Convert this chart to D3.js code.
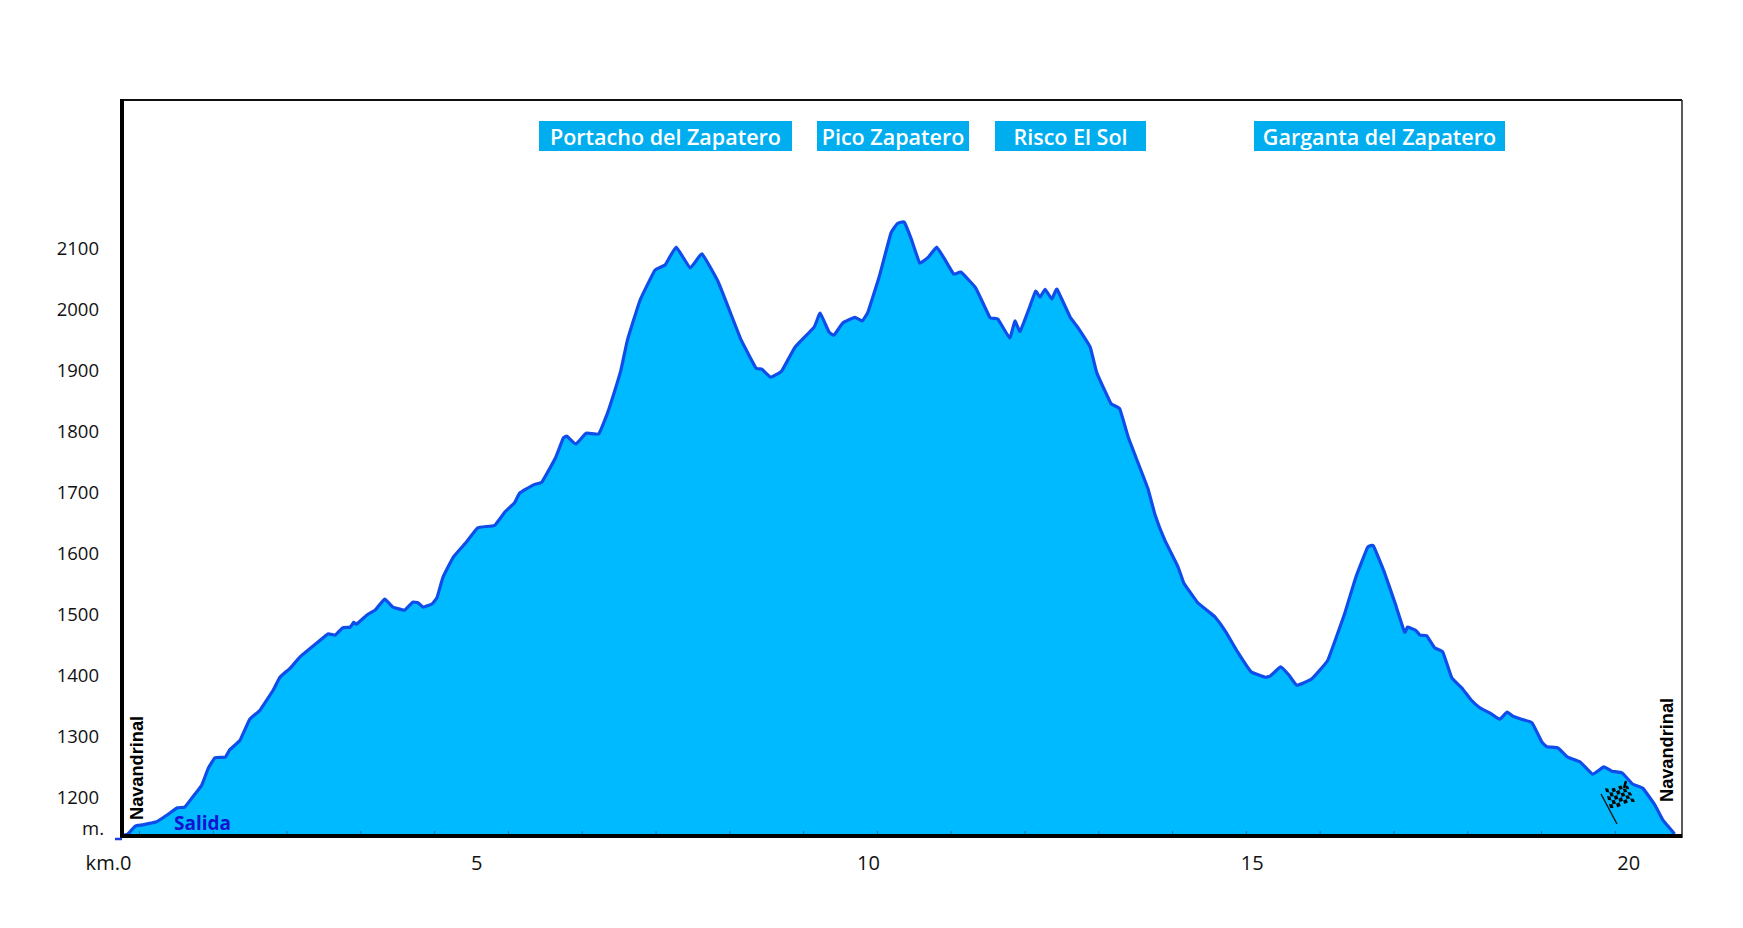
<!DOCTYPE html>
<html>
<head>
<meta charset="utf-8">
<title>Perfil Navandrinal</title>
<script src="https://cdn.jsdelivr.net/npm/d3@7"></script>
<style>
    html, body { margin: 0; padding: 0; background: #fff; }
    svg { display: block; }
    text { font-family: "Open Sans", sans-serif; }
</style>
</head>
<body>
<div id="chart"></div>
<script>
// Profile: distance in km, height in m
const distanceKm = [
    0, 0.08, 0.18, 0.28, 0.47, 0.61, 0.75, 0.85, 0.96, 1.08, 1.17, 1.26, 1.40, 1.46, 1.60, 1.73, 1.87,
    2.05, 2.14, 2.28, 2.41, 2.64, 2.79, 2.89, 2.99, 3.09, 3.14, 3.18, 3.32, 3.43, 3.56, 3.67, 3.83, 3.94,
    4.01, 4.08, 4.20, 4.27, 4.35, 4.49, 4.67, 4.82, 5.05, 5.19, 5.32, 5.39, 5.57, 5.69, 5.80, 5.88, 5.98,
    6.03, 6.15, 6.29, 6.46, 6.57, 6.65, 6.76, 6.85, 7.02, 7.22, 7.36, 7.51, 7.70, 7.86, 8.08, 8.24, 8.39,
    8.59, 8.67, 8.79, 8.94, 9.12, 9.38, 9.46, 9.58, 9.65, 9.77, 9.93, 10.03, 10.11, 10.26, 10.42, 10.51,
    10.60, 10.70, 10.81, 10.93, 11.04, 11.14, 11.27, 11.37, 11.57, 11.76, 11.87, 12.03, 12.10, 12.17,
    12.30, 12.38, 12.44, 12.51, 12.60, 12.67, 12.85, 12.95, 13.12, 13.21, 13.40, 13.52, 13.64, 13.77,
    13.90, 14.00, 14.13, 14.31, 14.39, 14.53, 14.58, 14.73, 14.81, 14.96, 15.12, 15.30, 15.49, 15.56,
    15.70, 15.81, 15.92, 16.12, 16.34, 16.57, 16.72, 16.88, 16.96, 17.11, 17.25, 17.38, 17.42, 17.53,
    17.59, 17.68, 17.79, 17.90, 18.02, 18.16, 18.28, 18.40, 18.54, 18.67, 18.77, 18.85, 18.97, 19.11,
    19.24, 19.31, 19.46, 19.59, 19.76, 19.93, 20.08, 20.19, 20.33, 20.47, 20.61, 20.77, 20.88, 21.04
];
const heightM = [
    1139, 1141, 1154, 1156, 1161, 1172, 1184, 1185, 1202, 1221, 1249, 1266, 1267, 1279, 1295, 1329, 1344,
    1377, 1398, 1413, 1431, 1454, 1469, 1467, 1479, 1480, 1488, 1485, 1500, 1508, 1526, 1513, 1508, 1521,
    1520, 1513, 1518, 1529, 1562, 1595, 1620, 1643, 1647, 1669, 1684, 1700, 1713, 1718, 1741, 1759, 1790,
    1793, 1780, 1798, 1797, 1828, 1857, 1901, 1951, 2016, 2065, 2074, 2103, 2069, 2092, 2046, 1997, 1951,
    1905, 1903, 1890, 1900, 1939, 1972, 1995, 1964, 1959, 1979, 1988, 1982, 1997, 2054, 2126, 2142,
    2144, 2115, 2077, 2087, 2103, 2085, 2059, 2062, 2036, 1988, 1985, 1954, 1982, 1965,
    2005, 2031, 2021, 2034, 2018, 2034, 1988, 1972, 1939, 1897, 1847, 1838, 1790, 1749,
    1708, 1664, 1623, 1579, 1552, 1528, 1520, 1505, 1497, 1472, 1439, 1407, 1398, 1400,
    1415, 1402, 1385, 1395, 1426, 1503, 1562, 1611, 1613, 1569, 1520, 1472, 1480, 1475,
    1467, 1466, 1446, 1439, 1397, 1380, 1361, 1348, 1339, 1329, 1341, 1334, 1329, 1323,
    1292, 1284, 1282, 1267, 1259, 1239, 1251, 1244, 1241, 1223, 1216, 1189, 1164, 1141
];

const heightTicks = [1200, 1300, 1400, 1500, 1600, 1700, 1800, 1900, 2000, 2100];
const kmTickValues = [0.23, 1.23, 2.23, 3.23, 4.23, 5.23, 6.23, 7.23, 8.23, 9.23, 10.23, 11.23, 12.23,
    13.23, 14.23, 15.23, 16.23, 17.23, 18.23, 19.23, 20.23];
const kmLabels = ['km.0', '5', '10', '15', '20'];
const kmLabelValues = [-0.19, 4.80, 10.11, 15.31, 20.41];

const placeNames = ['Portacho del Zapatero', 'Pico Zapatero', 'Risco El Sol', 'Garganta del Zapatero'];
const placeBoxes = [[539, 792], [817, 969], [995, 1146], [1254, 1505]];

const plot = { left: 122, right: 1682, top: 100, bottom: 835 };
const lineColor = '#0f4dea';
const fillColor = '#00baff';

const svg = d3.select('#chart').append('svg')
    .attr('width', 1743)
    .attr('height', 928);

svg.append('rect').attr('width', 1743).attr('height', 928).attr('fill', '#fff');

const x = d3.scaleLinear().domain([0, 21.14]).range([plot.left, plot.right]);
const y = d3.scaleLinear().domain([1200, 2100]).range([798, 249]);

const profile = distanceKm.map((d, i) => ({ km: d, m: heightM[i] }));
const profileCurve = d3.curveCardinal.tension(0.7);

svg.append('path')
    .datum(profile)
    .attr('fill', fillColor)
    .attr('d', d3.area().curve(profileCurve).x(d => x(d.km)).y0(plot.bottom).y1(d => y(d.m)));

svg.append('path')
    .datum(profile)
    .attr('fill', 'none')
    .attr('stroke', lineColor)
    .attr('stroke-width', 3.2)
    .attr('stroke-linejoin', 'round')
    .attr('d', d3.line().curve(profileCurve).x(d => x(d.km)).y(d => y(d.m)));

// Small inward km ticks
const minorAxis = svg.append('g')
    .attr('transform', `translate(0, ${plot.bottom})`)
    .call(d3.axisBottom(x).tickValues(kmTickValues).tickSize(-4).tickFormat(''));
minorAxis.select('.domain').remove();
minorAxis.selectAll('line').attr('stroke', '#2b6f9a').attr('stroke-width', 1);

// The km labels sit a little off the ticks in the original
const kmAxis = svg.append('g')
    .attr('transform', `translate(0, ${plot.bottom})`)
    .call(d3.axisBottom(x)
        .tickValues(kmLabelValues)
        .tickSize(0)
        .tickPadding(21)
        .tickFormat((d, i) => kmLabels[i]));
kmAxis.select('.domain').remove();
kmAxis.selectAll('text')
    .style('font-family', '"Open Sans", sans-serif')
    .style('font-size', '20px')
    .attr('fill', '#111');

const heightAxis = svg.append('g')
    .attr('transform', `translate(${plot.left}, 0)`)
    .call(d3.axisLeft(y).tickValues(heightTicks).tickSize(0).tickPadding(23).tickFormat(d3.format('d')));
heightAxis.select('.domain').remove();
heightAxis.selectAll('text')
    .style('font-family', '"Open Sans", sans-serif')
    .style('font-size', '18.5px')
    .attr('fill', '#111');

svg.append('text')
    .attr('x', 104)
    .attr('y', 835)
    .attr('text-anchor', 'end')
    .attr('font-size', 18.5)
    .attr('fill', '#111')
    .text('m.');

// Frame
svg.append('line').attr('x1', plot.left).attr('x2', plot.right).attr('y1', plot.top).attr('y2', plot.top)
    .attr('stroke', '#111').attr('stroke-width', 2);
svg.append('line').attr('x1', plot.right).attr('x2', plot.right).attr('y1', plot.top).attr('y2', plot.bottom + 3)
    .attr('stroke', '#222').attr('stroke-width', 1.5);
svg.append('line').attr('x1', plot.left).attr('x2', plot.left).attr('y1', plot.top - 1).attr('y2', plot.bottom + 3)
    .attr('stroke', '#000').attr('stroke-width', 4);
svg.append('line').attr('x1', plot.left).attr('x2', plot.right).attr('y1', plot.bottom + 1).attr('y2', plot.bottom + 1)
    .attr('stroke', '#000').attr('stroke-width', 4);

// Blue dash left of the origin
svg.append('line').attr('x1', 115).attr('x2', 122).attr('y1', 839).attr('y2', 839)
    .attr('stroke', '#1a3fd8').attr('stroke-width', 2.5);

// Place name boxes
placeNames.forEach((name, i) => {
    const [x0, x1] = placeBoxes[i];
    svg.append('rect')
        .attr('x', x0).attr('y', 121)
        .attr('width', x1 - x0).attr('height', 30)
        .attr('fill', '#00aeef');
    svg.append('text')
        .attr('x', (x0 + x1) / 2).attr('y', 145)
        .attr('text-anchor', 'middle')
        .attr('font-size', 21.5)
        .attr('font-weight', 600)
        .attr('fill', '#fff')
        .text(name);
});

// Navandrinal, start and finish
[[143, 820], [1673, 802]].forEach(p => {
    svg.append('text')
        .attr('transform', `translate(${p[0]}, ${p[1]}) rotate(-90)`)
        .style('font-family', '"Liberation Sans", Arial, sans-serif')
        .attr('font-size', 18.2)
        .attr('font-weight', 700)
        .attr('fill', '#000')
        .text('Navandrinal');
});

svg.append('text')
    .attr('x', 174)
    .attr('y', 830)
    .attr('font-size', 19)
    .attr('font-weight', 700)
    .attr('fill', '#1212d0')
    .text('Salida');

// Chequered flag near the finish
const flag = svg.append('g');
flag.append('line').attr('x1', 1601).attr('y1', 794).attr('x2', 1617).attr('y2', 824)
    .attr('stroke', '#1a1a1a').attr('stroke-width', 1.5);
flag.append('line').attr('x1', 1626).attr('y1', 781).attr('x2', 1624).attr('y2', 788)
    .attr('stroke', '#000').attr('stroke-width', 2.5);

const corners = { tl: [1605, 788], tr: [1628, 786], br: [1635, 802], bl: [1610, 808] };
function flagPoint(u, v) {
    const wave = Math.sin(u * Math.PI * 2) * 1.2;
    const px = (1 - v) * ((1 - u) * corners.tl[0] + u * corners.tr[0]) + v * ((1 - u) * corners.bl[0] + u * corners.br[0]);
    const py = (1 - v) * ((1 - u) * corners.tl[1] + u * corners.tr[1]) + v * ((1 - u) * corners.bl[1] + u * corners.br[1]);
    return [px, py + wave];
}
const cols = 7, rows = 5;
d3.range(cols).forEach(c => d3.range(rows).forEach(r => {
    if ((c + r) % 2 === 0) {
        flag.append('polygon')
            .attr('fill', '#0a0a0a')
            .attr('points', [
                flagPoint(c / cols, r / rows),
                flagPoint((c + 1) / cols, r / rows),
                flagPoint((c + 1) / cols, (r + 1) / rows),
                flagPoint(c / cols, (r + 1) / rows)
            ].map(p => p.join(',')).join(' '));
    }
}));
</script>
</body>
</html>
